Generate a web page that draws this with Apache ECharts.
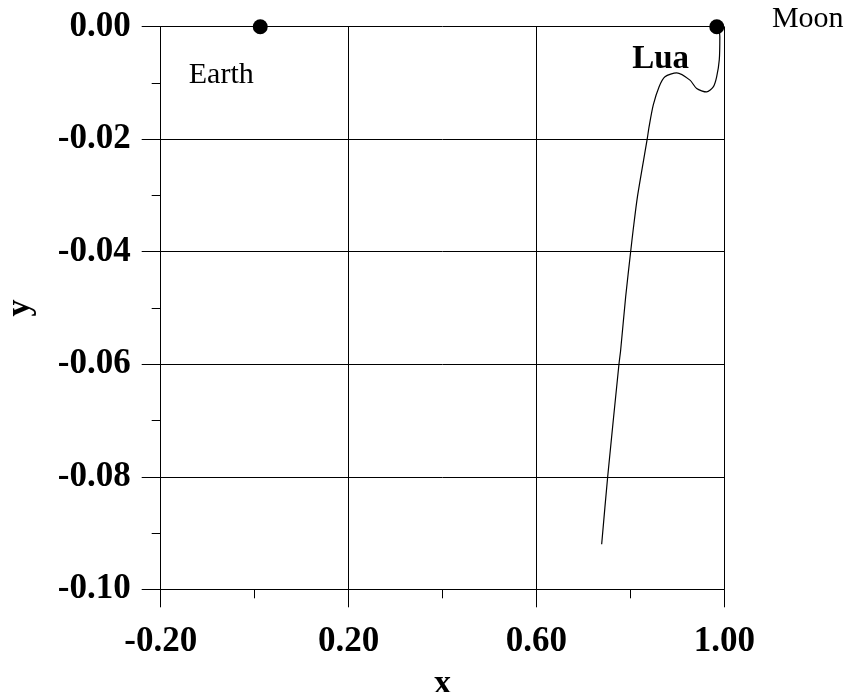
<!DOCTYPE html>
<html>
<head>
<meta charset="utf-8">
<script src="https://cdn.jsdelivr.net/npm/echarts@6/dist/echarts.min.js"></script>
<style>html,body{margin:0;padding:0;background:#fff}#c{width:849px;height:692px}</style>
</head>
<body>
<div id="c"></div>
<script>
// Trajectory (x, y)
const curveX = [0.9890, 0.9905, 0.9893, 0.9837, 0.9765, 0.9624, 0.9412, 0.9269, 0.8986, 0.8737, 0.8610, 0.8488, 0.8398, 0.8358, 0.8151, 0.8060, 0.8006, 0.7900, 0.7793, 0.7757, 0.7517, 0.7389];
const curveY = [-0.0005, -0.0018, -0.0059, -0.0089, -0.0107, -0.0116, -0.0110, -0.0095, -0.0082, -0.0089, -0.0107, -0.0139, -0.0178, -0.0200, -0.0302, -0.0361, -0.0400, -0.0480, -0.0575, -0.0600, -0.0800, -0.0920];
const bodyNames = ['Earth', 'Moon'];
const bodyX = [0.012, 0.984];
const bodyY = [0, 0];
const curveLabel = 'Lua';
const curveLabelIndex = 8;
const xTicks = [-0.2, 0.2, 0.6, 1.0];
const yTicks = [0, -0.02, -0.04, -0.06, -0.08, -0.10];

const serif = 'Liberation Serif';
const fmt = v => (Math.abs(v) < 1e-9 ? 0 : v).toFixed(2);

const curveData = curveX.map((x, i) => {
  const item = { value: [x, curveY[i]] };
  if (i === curveLabelIndex) {
    item.label = {
      show: true, formatter: curveLabel, position: 'inside', offset: [-16, -13],
      fontFamily: serif, fontWeight: 'bold', fontSize: 33, color: '#000'
    };
  }
  return item;
});

const bodyOffsets = [[-39, 48], [91, -8]];
const bodyData = bodyNames.map((n, i) => ({
  value: [bodyX[i], bodyY[i]],
  label: {
    show: true, formatter: n, position: 'inside', offset: bodyOffsets[i],
    fontFamily: serif, fontSize: 30, color: '#000'
  }
}));

const chart = echarts.init(document.getElementById('c'), null, { renderer: 'canvas' });
chart.setOption({
  backgroundColor: '#fff',
  animation: false,
  grid: { left: 160.7, right: 124.7, top: 26.7, bottom: 102.7, containLabel: false, outerBoundsMode: 'none' },
  xAxis: {
    type: 'value', min: xTicks[0], max: xTicks[xTicks.length - 1], interval: 0.4,
    name: 'x', nameLocation: 'middle', nameGap: 78,
    nameTextStyle: { fontFamily: serif, fontWeight: 'bold', fontSize: 34, color: '#000' },
    axisLine: { show: true, onZero: false, lineStyle: { color: '#000', width: 1 } },
    axisTick: { show: true, inside: false, length: 18, lineStyle: { color: '#000', width: 1 } },
    minorTick: { show: true, splitNumber: 2, length: 9, lineStyle: { color: '#000', width: 1 } },
    splitLine: { show: true, lineStyle: { color: '#000', width: 1 } },
    axisLabel: { formatter: fmt, margin: 35, fontFamily: serif, fontWeight: 'bold', fontSize: 35, color: '#000' }
  },
  yAxis: {
    type: 'value', min: yTicks[yTicks.length - 1], max: yTicks[0], interval: 0.02,
    name: 'y', nameLocation: 'middle', nameGap: 123,
    nameTextStyle: { fontFamily: serif, fontWeight: 'bold', fontSize: 34, color: '#000' },
    axisLine: { show: true, onZero: false, lineStyle: { color: '#000', width: 1 } },
    axisTick: { show: true, inside: false, length: 19, lineStyle: { color: '#000', width: 1 } },
    minorTick: { show: true, splitNumber: 2, length: 9, lineStyle: { color: '#000', width: 1 } },
    splitLine: { show: true, lineStyle: { color: '#000', width: 1 } },
    axisLabel: { formatter: fmt, margin: 30, fontFamily: serif, fontWeight: 'bold', fontSize: 35, color: '#000' }
  },
  series: [
    {
      type: 'line', data: curveData, smooth: 0.25, showSymbol: true, symbol: 'circle', symbolSize: 0,
      itemStyle: { color: '#000', opacity: 1 },
      lineStyle: { color: '#000', width: 1.2 }, clip: false, z: 3
    },
    {
      type: 'scatter', data: bodyData, symbol: 'circle', symbolSize: 15,
      itemStyle: { color: '#000', opacity: 1 }, clip: false, z: 4
    }
  ]
});
</script>
</body>
</html>
